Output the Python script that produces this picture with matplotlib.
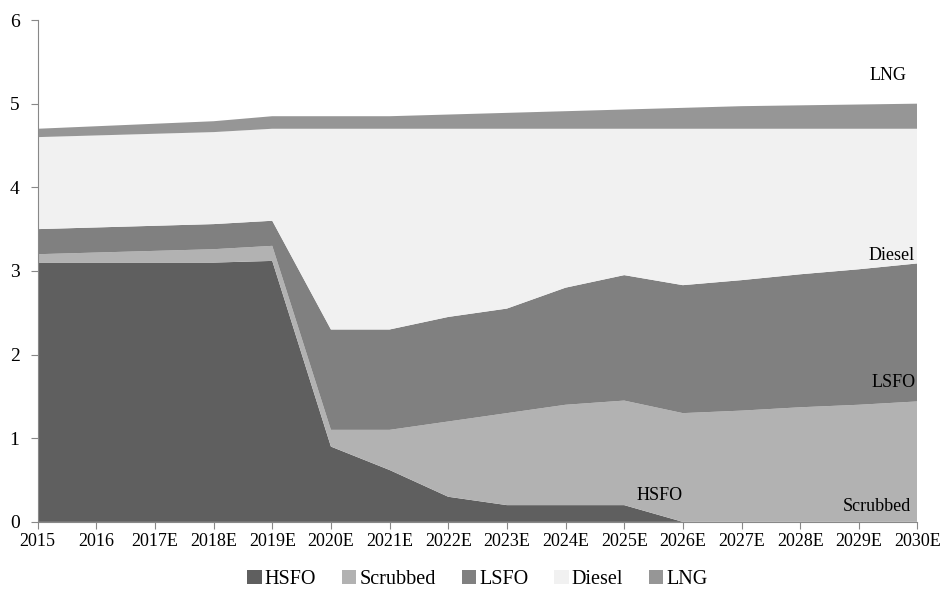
import matplotlib
matplotlib.use("Agg")
import matplotlib.pyplot as plt
import numpy as np

years = ["2015", "2016", "2017E", "2018E", "2019E", "2020E", "2021E", "2022E",
         "2023E", "2024E", "2025E", "2026E", "2027E", "2028E", "2029E", "2030E"]

hsfo = [3.1, 3.1, 3.1, 3.1, 3.12, 0.9, 0.62, 0.3, 0.2, 0.2, 0.2, 0.0, 0.0, 0.0, 0.0, 0.0]
scrubbed = [0.1, 0.12, 0.14, 0.16, 0.18, 0.2, 0.48, 0.9, 1.1, 1.2, 1.25, 1.3, 1.33, 1.37, 1.4, 1.44]
lsfo = [0.3, 0.3, 0.3, 0.3, 0.3, 1.2, 1.2, 1.25, 1.25, 1.4, 1.5, 1.53, 1.56, 1.59, 1.62, 1.65]
diesel = [1.1, 1.1, 1.1, 1.1, 1.1, 2.4, 2.4, 2.25, 2.15, 1.9, 1.75, 1.87, 1.81, 1.74, 1.68, 1.61]
lng = [0.1, 0.11, 0.12, 0.13, 0.15, 0.15, 0.15, 0.17, 0.19, 0.21, 0.23, 0.25, 0.27, 0.28, 0.29, 0.3]

labels = ["HSFO", "Scrubbed", "LSFO", "Diesel", "LNG"]
colors = ["#5f5f5f", "#b2b2b2", "#808080", "#f1f1f1", "#969696"]

plt.rcParams["font.family"] = ["Liberation Serif", "DejaVu Serif"]

fig = plt.figure(figsize=(9.41, 5.89), dpi=100)
ax = fig.add_axes([0.040, 0.114, 0.935, 0.852])

x = np.arange(len(years))
ax.stackplot(x, hsfo, scrubbed, lsfo, diesel, lng, colors=colors, labels=labels, linewidth=0)

ax.set_xlim(0, len(years) - 1)
ax.set_ylim(0, 6)
ax.set_xticks(x)
ax.set_xticklabels(years, fontsize=13)
ax.set_yticks(range(0, 7))
ax.tick_params(axis="y", labelsize=14, length=5, color="#888888", pad=8)
ax.tick_params(axis="x", length=5, color="#888888", pad=3)
for side in ["top", "right"]:
    ax.spines[side].set_visible(False)
for side in ["left", "bottom"]:
    ax.spines[side].set_color("#888888")

ax.text(14.5, 5.34, "LNG", fontsize=13, ha="center", va="center")
ax.text(14.55, 3.19, "Diesel", fontsize=13, ha="center", va="center")
ax.text(14.6, 1.67, "LSFO", fontsize=13, ha="center", va="center")
ax.text(10.6, 0.32, "HSFO", fontsize=13, ha="center", va="center")
ax.text(14.3, 0.18, "Scrubbed", fontsize=13, ha="center", va="center")

ax.legend(loc="upper center", bbox_to_anchor=(0.5, -0.068), ncol=5, frameon=False,
          fontsize=14.5, handlelength=0.7, handleheight=0.65, handletextpad=0.15,
          columnspacing=1.3, borderpad=0.2)

plt.savefig("out.png", dpi=100)
plt.close()
